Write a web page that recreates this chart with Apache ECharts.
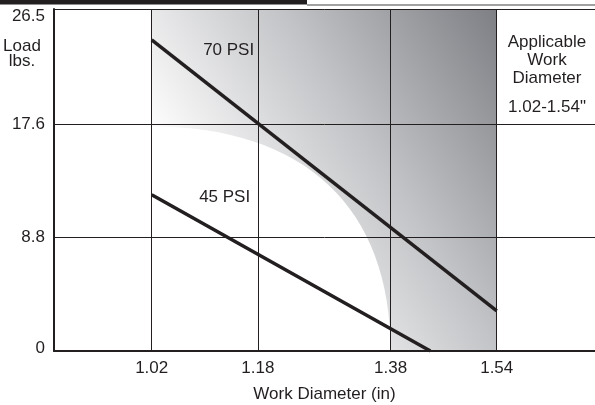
<!DOCTYPE html>
<html><head><meta charset="utf-8">
<script src="https://cdn.jsdelivr.net/npm/echarts@6/dist/echarts.min.js"></script>
<style>html,body{margin:0;padding:0;background:#fff}#c{width:595px;height:405px}</style>
</head><body><div id="c"></div>
<script>
// ---- data ----
const xTicks = [1.02, 1.18, 1.38, 1.54];
const yTicks = [0, 8.8, 17.6, 26.5];
const psi70 = [[1.02, 24.1], [1.54, 3.1]];
const psi45 = [[1.02, 12.1], [1.44, 0]];
const seriesNames = ['70 PSI', '45 PSI'];
const applicableRange = [1.02, 1.54];
const cutoutX = [1.02, 1.38];
const cutoutTop = 17.4;
const label70At = [1.136, 23.3];
const label45At = [1.13, 11.9];
const sideNote = ['Applicable', 'Work', 'Diameter'];
const sideRange = '1.02-1.54"';

const FONT = '"Liberation Sans", Arial, sans-serif';
const INK = '#231f20';
const FS = 17;

const chart = echarts.init(document.getElementById('c'), null, {renderer: 'canvas'});

const txt = (extra) => Object.assign({fontFamily: FONT, fontSize: FS, color: INK}, extra || {});

chart.setOption({
  animation: false,
  backgroundColor: '#ffffff',
  grid: {left: 54, right: 0, top: 9, bottom: 54, containLabel: false, outerBoundsMode: 'none'},
  xAxis: {
    type: 'value', min: 0.8728, max: 1.6881, z: 10,
    axisLine: {show: true, lineStyle: {color: INK, width: 2}},
    axisTick: {show: false},
    splitLine: {show: false},
    axisLabel: Object.assign(txt(), {customValues: xTicks, margin: 8.5, formatter: v => v.toFixed(2)}),
    name: 'Work Diameter (in)', nameLocation: 'middle', nameGap: 35,
    nameTextStyle: txt()
  },
  yAxis: {
    type: 'value', min: 0, max: 26.5, z: 10,
    axisLine: {show: true, lineStyle: {color: INK, width: 2}},
    axisTick: {show: false},
    splitLine: {show: false},
    axisLabel: Object.assign(txt(), {
      customValues: yTicks, margin: 9,
      formatter: v => v === yTicks[3] ? '{t|' + v + '}' : (v === 0 ? '{b|0}' : String(v)),
      rich: {t: txt({padding: [15, 0, 0, 0]}), b: txt({padding: [0, 0, 5, 0]})}
    })
  },
  graphic: [
    {type: 'rect', shape: {x: 0, y: 0, width: 307, height: 4.5}, style: {fill: INK}},
    {type: 'line', shape: {x1: 307, y1: 5, x2: 595, y2: 5}, style: {stroke: '#444', lineWidth: 1.2}},
    {type: 'text', x: 22, y: 38.5, style: {text: 'Load\nlbs.', font: FS + 'px ' + FONT, fill: INK, textAlign: 'center', textVerticalAlign: 'top', lineHeight: 15}},
    {type: 'text', x: 547, y: 33.6, style: {text: sideNote.join('\n'), font: FS + 'px ' + FONT, fill: INK, textAlign: 'center', textVerticalAlign: 'top', lineHeight: 17.8}},
    {type: 'text', x: 547, y: 107, style: {text: sideRange, font: FS + 'px ' + FONT, fill: INK, textAlign: 'center', textVerticalAlign: 'middle'}}
  ],
  series: [
    {
      type: 'custom', z: 1, silent: true,
      data: [[applicableRange[0], 0]],
      encode: {x: 0, y: 1},
      renderItem: function (params, api) {
        const tl = api.coord([applicableRange[0], yTicks[3]]);
        const br = api.coord([applicableRange[1], yTicks[0]]);
        const c0 = api.coord([cutoutX[0], 0]);
        const cTop = api.coord([cutoutX[0], cutoutTop]);
        const cEnd = api.coord([cutoutX[1], 0]);
        const k = 0.64;
        const cp1 = [cTop[0] + k * (cEnd[0] - cTop[0]), cTop[1]];
        const cp2 = [cEnd[0], cEnd[1] + k * (cTop[1] - cEnd[1])];
        return {type: 'group', children: [
          {type: 'rect', shape: {x: tl[0], y: tl[1], width: br[0] - tl[0], height: br[1] - tl[1]},
           style: {fill: new echarts.graphic.LinearGradient(0, 1, 1.162, 0.252, [
             {offset: 0, color: '#ffffff'}, {offset: 0.24, color: '#ffffff'},
             {offset: 0.62, color: '#c2c3c6'}, {offset: 1, color: '#7d7f84'}])}},
          {type: 'path', shape: {pathData: 'M' + c0[0] + ' ' + c0[1] + ' L' + cTop[0] + ' ' + cTop[1] +
             ' C' + cp1[0] + ' ' + cp1[1] + ' ' + cp2[0] + ' ' + cp2[1] + ' ' + cEnd[0] + ' ' + cEnd[1] + ' Z'},
           style: {fill: '#ffffff'}}
        ]};
      }
    },
    {
      type: 'line', z: 2, data: [], silent: true,
      markLine: {
        silent: true, symbol: 'none', label: {show: false}, animation: false,
        lineStyle: {color: INK, width: 1, type: 'solid'},
        data: xTicks.map(v => ({xAxis: v})).concat(yTicks.slice(1).map(v => ({yAxis: v})))
      }
    },
    {
      name: seriesNames[0], type: 'line', z: 3, data: psi70, symbol: 'none',
      lineStyle: {color: INK, width: 3.5},
      markPoint: {symbol: 'circle', symbolSize: 0, data: [{coord: label70At, value: seriesNames[0]}],
        label: txt({show: true, position: 'inside', formatter: seriesNames[0]})}
    },
    {
      name: seriesNames[1], type: 'line', z: 3, data: psi45, symbol: 'none',
      lineStyle: {color: INK, width: 3.5},
      markPoint: {symbol: 'circle', symbolSize: 0, data: [{coord: label45At, value: seriesNames[1]}],
        label: txt({show: true, position: 'inside', formatter: seriesNames[1]})}
    }
  ]
});
</script></body></html>
